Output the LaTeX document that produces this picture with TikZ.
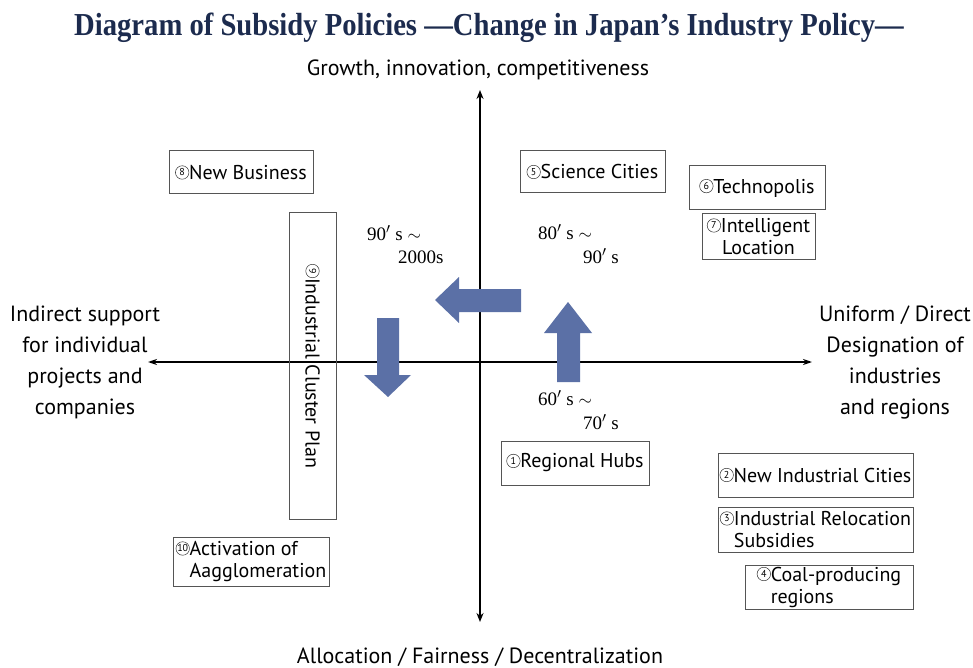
\documentclass[tikz,border=0pt]{standalone}
\usepackage{fontspec}
\setmainfont{Liberation Serif}
\setsansfont{PT Sans}
\usetikzlibrary{arrows.meta}
\definecolor{titleblue}{HTML}{1C2B4E}
\definecolor{boxgray}{HTML}{555555}
\definecolor{shiftblue}{HTML}{5B70A6}
% circled number in front of a policy name
\newcommand{\cn}[1]{\tikz[baseline=(c.south)]\node[circle,draw=black!80,line width=0.5pt,inner sep=0pt,minimum size=13.5pt,font=\sffamily\fontsize{10}{10}\selectfont] (c) {#1};}
\begin{document}
\begin{tikzpicture}[x=1pt,y=-1pt,
  box/.style={draw=boxgray,line width=1pt,inner sep=0pt,align=left,font=\sffamily\fontsize{20}{22}\selectfont},
  axislabel/.style={align=center,font=\sffamily\fontsize{22}{31}\selectfont},
  years/.style={anchor=west,inner sep=0pt,font=\fontsize{19}{21}\selectfont},
  shiftarrow/.style={fill=shiftblue}]
\useasboundingbox (0,0) rectangle (973,668);
% title
\node[text=titleblue,font=\bfseries\fontsize{32}{34}\selectfont,xscale=0.895] (title) at (489,28) {Diagram of Subsidy Policies ---Change in Japan’s Industry Policy---};
% axes
\coordinate (top) at (480,90); \coordinate (bottom) at (480,622);
\coordinate (left) at (148,362); \coordinate (right) at (812,362);
\draw[line width=2.6pt,{Stealth[length=9pt,width=7pt]}-{Stealth[length=9pt,width=7pt]}] (bottom) -- (top);
\draw[line width=1.8pt,{Stealth[length=9pt,width=6pt]}-{Stealth[length=9pt,width=6pt]}] (left) -- (right);
\node[axislabel] (growth) at (478,70) {Growth, innovation, competitiveness};
\node[axislabel] (alloc) at (480,657) {Allocation / Fairness / Decentralization};
\node[axislabel] (indirect) at (85,362) {Indirect support\\for individual\\projects and\\companies};
\node[axislabel] (uniform) at (895,362) {Uniform / Direct\\Designation of\\industries\\and regions};
% policy boxes
\node[box,minimum width=144,minimum height=43] (newbiz) at (241,172.5) {\cn{8}New Business};
\node[box,minimum width=306,minimum height=47,rotate=-90] (cluster) at (312.5,366) {\cn{9}Industrial Cluster Plan};
\node[box,minimum width=145,minimum height=42] (science) at (592.5,172) {\cn{5}Science Cities};
\node[box,minimum width=136,minimum height=44] (techno) at (757,188) {\cn{6}Technopolis};
\node[box,minimum width=113,minimum height=45,align=center] (intel) at (758.5,236.5) {\cn{7}Intelligent\\Location};
\node[box,minimum width=148,minimum height=44] (hubs) at (575,463) {\cn{1}Regional Hubs};
\node[box,minimum width=195,minimum height=44] (newind) at (815.5,475) {\cn{2}New Industrial Cities};
\node[box,minimum width=195,minimum height=45] (reloc) at (815.5,529.5) {\cn{3}Industrial Relocation\\\hphantom{\cn{3}}Subsidies};
\node[box,minimum width=168,minimum height=44] (coal) at (829,587) {\cn{4}Coal-producing\\\hphantom{\cn{4}}regions};
\node[box,minimum width=156,minimum height=49] (agglo) at (251,561.5) {\cn{10}Activation of\\\hphantom{\cn{10}}Aagglomeration};
% periods
\node[years] (p90a) at (367,233) {90$'$ s $\sim$};
\node[years] (p90b) at (398,257) {2000s};
\node[years] (p80a) at (538,232) {80$'$ s $\sim$};
\node[years] (p80b) at (583,256) {90$'$ s};
\node[years] (p60a) at (538,398) {60$'$ s $\sim$};
\node[years] (p60b) at (583,422) {70$'$ s};
% shift arrows
\fill[shiftarrow] (557,382) -- (557,333) -- (544,333) -- (568,302) -- (592,333) -- (580,333) -- (580,382) -- cycle; % up
\fill[shiftarrow] (521,289) -- (459,289) -- (459,277) -- (435,300) -- (459,323) -- (459,312) -- (521,312) -- cycle; % left
\fill[shiftarrow] (377,318) -- (377,375) -- (364,375) -- (388,397) -- (411,375) -- (399,375) -- (399,318) -- cycle; % down
\end{tikzpicture}
\end{document}
